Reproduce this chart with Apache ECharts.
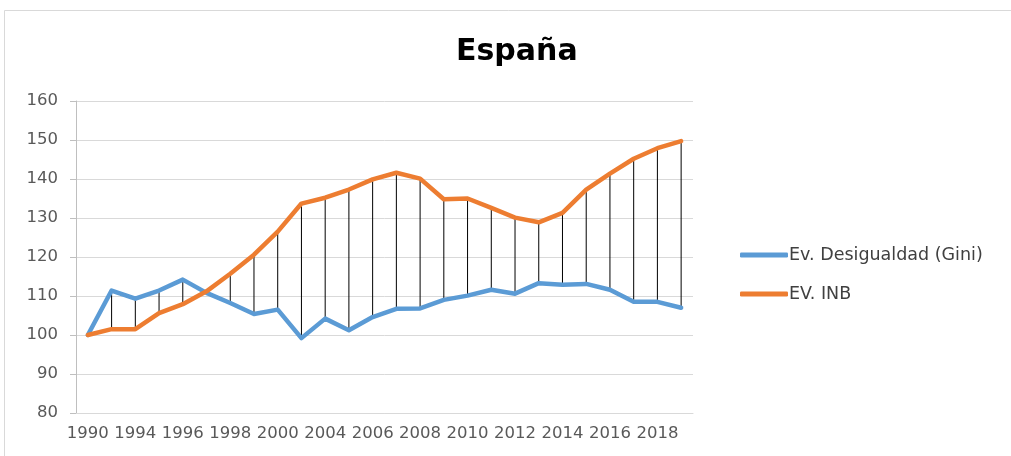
<!DOCTYPE html>
<html>
<head>
<meta charset="utf-8">
<script src="https://cdn.jsdelivr.net/npm/echarts@6/dist/echarts.min.js"></script>
<style>
  html, body { margin: 0; padding: 0; background: #fff; }
  #main { width: 1011px; height: 456px; }
</style>
</head>
<body>
<div id="main"></div>
<script>
// years on the category axis (labels shown every other one)
var years = ['1990', '1993', '1994', '1995', '1996', '1997', '1998', '1999', '2000',
  '2003', '2004', '2005', '2006', '2007', '2008', '2009', '2010', '2011', '2012',
  '2013', '2014', '2015', '2016', '2017', '2018', '2019'];
var gini = [100, 111.4, 109.3, 111.4, 114.2, 110.8, 108.2, 105.4, 106.5,
  99.2, 104.2, 101.2, 104.6, 106.7, 106.8, 109.0, 110.1, 111.6, 110.6,
  113.3, 112.9, 113.1, 111.6, 108.5, 108.5, 107.0];
var inb = [100, 101.5, 101.5, 105.6, 107.9, 111.2, 115.7, 120.6, 126.5,
  133.7, 135.2, 137.3, 139.9, 141.6, 140.1, 134.8, 135.0, 132.6, 130.1,
  128.9, 131.3, 137.3, 141.4, 145.2, 147.9, 149.7];
var seriesNames = ['Ev. Desigualdad (Gini)', 'EV. INB'];

var myChart = echarts.init(document.getElementById('main'));

var font = 'DejaVu Sans';
var hiLo = years.map(function (y, i) { return [i, gini[i], inb[i]]; });

var option = {
  animation: false,
  backgroundColor: '#fff',
  title: {
    text: 'España',
    left: 451,
    top: 32,
    textStyle: { fontFamily: font, fontSize: 30, fontWeight: 'bold', color: '#000' }
  },
  graphic: [{
    type: 'rect',
    shape: { x: 4.5, y: 10.5, width: 1010, height: 450 },
    style: { fill: 'none', stroke: '#d9d9d9', lineWidth: 1 },
    silent: true
  }],
  legend: {
    orient: 'vertical',
    left: 735,
    top: 241,
    itemWidth: 48,
    itemHeight: 5,
    itemGap: 21,
    icon: 'roundRect',
    data: seriesNames,
    textStyle: { fontFamily: font, fontSize: 17.5, color: '#404040', padding: [0, 0, 0, -4] }
  },
  grid: {
    left: 76,
    top: 101,
    right: 318,
    bottom: 43
  },
  xAxis: {
    type: 'category',
    data: years,
    boundaryGap: true,
    axisTick: { show: false },
    axisLine: { lineStyle: { color: '#d9d9d9' } },
    axisLabel: {
      interval: 1,
      margin: 12,
      fontFamily: font,
      fontSize: 16.5,
      color: '#595959'
    }
  },
  yAxis: {
    type: 'value',
    min: 80,
    max: 160,
    interval: 10,
    axisLine: { show: true, lineStyle: { color: '#bfbfbf' } },
    axisTick: { show: true, length: 6, lineStyle: { color: '#bfbfbf' } },
    axisLabel: { fontFamily: font, fontSize: 16.5, color: '#595959', margin: 18 },
    splitLine: { lineStyle: { color: '#d9d9d9', width: 1 } }
  },
  series: [
    {
      name: 'hilo',
      type: 'custom',
      z: 1,
      data: hiLo,
      encode: { x: 0, y: [1, 2] },
      renderItem: function (params, api) {
        var i = api.value(0);
        var a = api.coord([i, api.value(1)]);
        var b = api.coord([i, api.value(2)]);
        return {
          type: 'line',
          shape: { x1: a[0], y1: a[1], x2: b[0], y2: b[1] },
          style: { stroke: '#000', lineWidth: 1 }
        };
      }
    },
    {
      name: seriesNames[0],
      type: 'line',
      z: 3,
      data: gini,
      symbol: 'none',
      itemStyle: { color: '#5b9bd5' },
      lineStyle: { color: '#5b9bd5', width: 4.5, cap: 'round', join: 'round' }
    },
    {
      name: seriesNames[1],
      type: 'line',
      z: 3,
      data: inb,
      symbol: 'none',
      itemStyle: { color: '#ed7d31' },
      lineStyle: { color: '#ed7d31', width: 4.5, cap: 'round', join: 'round' }
    }
  ]
};

myChart.setOption(option);
window.onresize = myChart.resize;
</script>
</body>
</html>
